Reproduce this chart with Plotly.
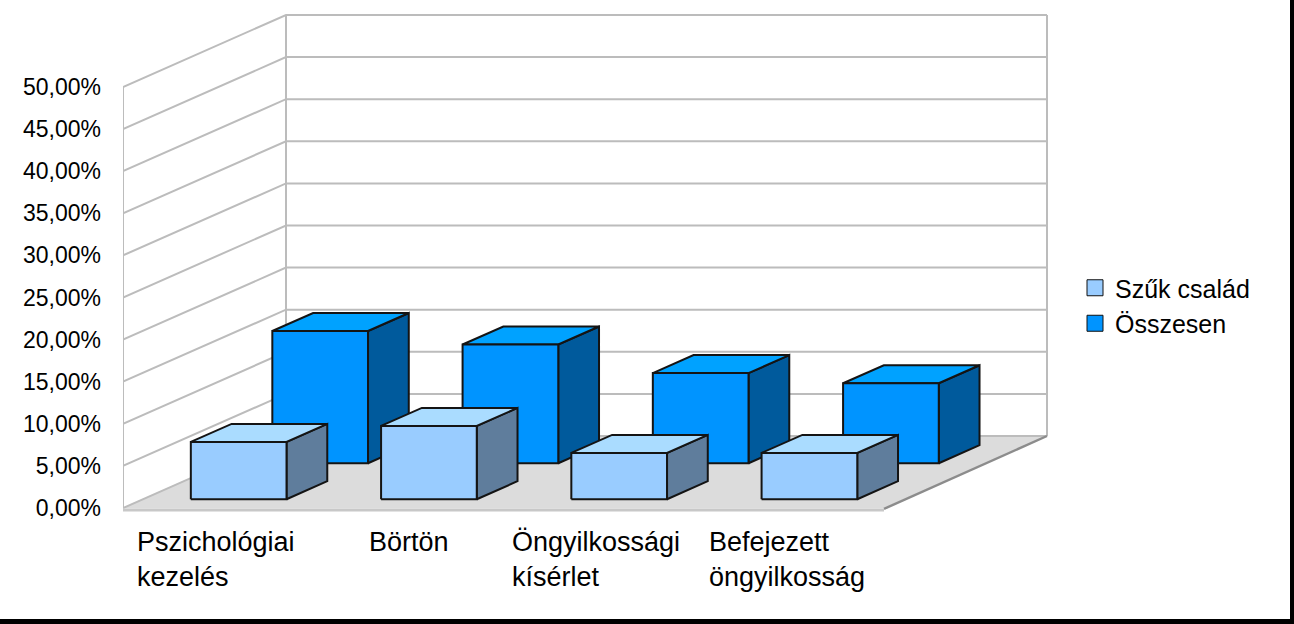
import plotly.graph_objects as go

categories = ["Pszichológiai<br>kezelés", "Börtön", "Öngyilkossági<br>kísérlet", "Befejezett<br>öngyilkosság"]
szuk_csalad = [6.8, 8.7, 5.5, 5.5]
osszesen = [15.7, 14.1, 10.7, 9.5]
y_ticks = [0, 5, 10, 15, 20, 25, 30, 35, 40, 45, 50]
y_labels = ["0,00%", "5,00%", "10,00%", "15,00%", "20,00%", "25,00%", "30,00%", "35,00%", "40,00%", "45,00%", "50,00%"]
series_names = ["Szűk család", "Összesen"]

W, H = 1294, 624
LEFT = 123
ZERO_PX = 508
PX_PER_CAT = 190.25
PX_PER_PCT = 8.42
DEPTH_X = 163 / PX_PER_CAT
DEPTH_Y = 72 / PX_PER_PCT
N = len(categories)
INSET, BAR_W = 0.252, 0.503
BAR_DEPTH = 0.25
ROW_DEPTH = [0.122, 0.622]


def proj(cx, depth, value):
    return cx + depth * DEPTH_X, value + depth * DEPTH_Y


def poly(points):
    xs, ys = zip(*[proj(*p) for p in points])
    return list(xs) + [None], list(ys) + [None]


def line_trace(xs, ys, color, width):
    return go.Scatter(x=xs, y=ys, mode="lines", line=dict(color=color, width=width),
                      hoverinfo="skip", showlegend=False, connectgaps=False)


def fill_trace(xs, ys, fill, line="#141414", width=2):
    return go.Scatter(x=xs, y=ys, mode="lines", fill="toself", fillcolor=fill,
                      line=dict(color=line, width=width), hoverinfo="skip", showlegend=False)


traces = []

# floor
fx, fy = poly([(0, 0, 0), (N, 0, 0), (N, 1, 0), (0, 1, 0), (0, 0, 0)])
traces.append(fill_trace(fx, fy, "#dcdcdc", "#dcdcdc", 0.5))

# walls / grid
gx, gy = [], []
for v in y_ticks:
    a, b = poly([(0, 0, v), (0, 1, v), (N, 1, v)])
    gx += a
    gy += b
for pts in ([(0, 0, 0), (0, 0, 50)], [(0, 1, 0), (0, 1, 50)], [(N, 1, 0), (N, 1, 50)]):
    a, b = poly(pts)
    gx += a
    gy += b
traces.append(line_trace(gx, gy, "#bcbcbc", 2))

# floor edges
a, b = poly([(0, 0, -0.25), (N, 0, -0.25)])
traces.append(line_trace(a, b, "#c8c8c8", 3))
a, b = poly([(N, 0, -0.1), (N, 1, 0)])
traces.append(line_trace(a, b, "#8c8c8c", 2.4))


def bar_traces(values, depth, front, top, side):
    out = []
    for i, v in enumerate(values):
        x0, x1 = i + INSET, i + INSET + BAR_W
        d0, d1 = depth, depth + BAR_DEPTH
        a, b = poly([(x1, d0, 0), (x1, d1, 0), (x1, d1, v), (x1, d0, v), (x1, d0, 0)])
        out.append(fill_trace(a, b, side))
        a, b = poly([(x0, d0, v), (x1, d0, v), (x1, d1, v), (x0, d1, v), (x0, d0, v)])
        out.append(fill_trace(a, b, top))
        a, b = poly([(x0, d0, 0), (x1, d0, 0), (x1, d0, v), (x0, d0, v), (x0, d0, 0)])
        out.append(fill_trace(a, b, front))
    return out


traces += bar_traces(osszesen, ROW_DEPTH[1], "#0094ff", "#00a2ff", "#005a9c")
traces += bar_traces(szuk_csalad, ROW_DEPTH[0], "#99ccff", "#aadcff", "#5f7d9c")

# legend keys
for name, color in zip(series_names, ["#99ccff", "#0094ff"]):
    traces.append(go.Scatter(x=[None], y=[None], mode="markers", name=name,
                             marker=dict(symbol="square", size=16, color=color,
                                         line=dict(color="#111111", width=1))))

fig = go.Figure(traces)

label_px = [136, 368, 511, 708]
annotations = [
    dict(x=(px - LEFT) / PX_PER_CAT, y=(ZERO_PX - 526) / PX_PER_PCT, xref="x", yref="y",
         text=t, showarrow=False, xanchor="left", yanchor="top", align="left",
         font=dict(family="Liberation Sans", size=27, color="black"), borderpad=0)
    for px, t in zip(label_px, categories)
]

to_px_x = lambda px: (px - LEFT) / (W - LEFT)
to_px_y = lambda py: 1 - py / H
shapes = [
    dict(type="rect", xref="paper", yref="paper", x0=to_px_x(1290), x1=1, y0=0, y1=1,
         fillcolor="black", line_width=0, layer="above"),
    dict(type="rect", xref="paper", yref="paper", x0=-LEFT / (W - LEFT), x1=1, y0=0, y1=to_px_y(619),
         fillcolor="black", line_width=0, layer="above"),
]

fig.update_layout(
    width=W, height=H,
    margin=dict(l=LEFT, r=0, t=0, b=0),
    paper_bgcolor="white", plot_bgcolor="white",
    font=dict(family="Liberation Sans", color="black"),
    xaxis=dict(range=[0, (W - LEFT) / PX_PER_CAT], visible=False, fixedrange=True),
    yaxis=dict(range=[(ZERO_PX - H) / PX_PER_PCT, ZERO_PX / PX_PER_PCT], tickvals=y_ticks, ticktext=y_labels,
               showgrid=False, zeroline=False, showline=False, ticks="", ticklabelstandoff=21,
               tickfont=dict(size=23), fixedrange=True),
    legend=dict(x=to_px_x(1075), y=to_px_y(265), xanchor="left", yanchor="top", font=dict(size=25),
                bgcolor="rgba(0,0,0,0)", itemwidth=30, borderwidth=0),
    annotations=annotations,
    shapes=shapes,
    showlegend=True,
)

fig.write_html("out.html", config=dict(displayModeBar=False),
               post_script="document.body.style.margin='0';document.body.style.overflow='hidden';")
